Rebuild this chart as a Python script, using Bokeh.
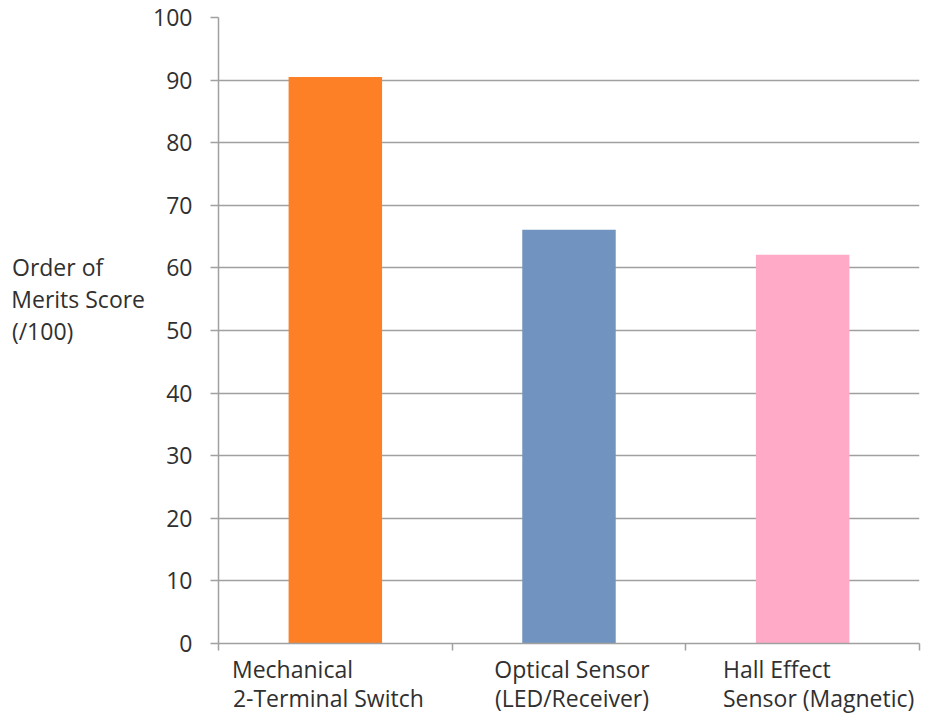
from bokeh.plotting import figure
from bokeh.models import Range1d, FixedTicker, ColumnDataSource, AllLabels
from bokeh.embed import file_html
from bokeh.resources import INLINE

categories = ["Mechanical\n2-Terminal Switch", "Optical Sensor\n(LED/Receiver)", "Hall Effect\nSensor (Magnetic)"]
scores = [90.5, 66.1, 62.1]
colors = ["#FD7F26", "#7093C0", "#FFABC8"]
y_ticks = [0, 10, 20, 30, 40, 50, 60, 70, 80, 90, 100]
y_title = "Order of\nMerits Score\n(/100)"

FONT = "Open Sans"
FS = "23px"
TXT = "#303030"
GRID = "#A0A0A0"
NB = "\u00a0"


def pad_lines(text, counts, extra_lines=0):
    # trailing no-break spaces so that the centred lines read as left-aligned
    lines = [ln + NB * k for ln, k in zip(text.split("\n"), counts)]
    lines += [NB] * extra_lines
    return "\n".join(lines)


n = len(categories)
xs = [i + 0.5 for i in range(n)]
src = ColumnDataSource(dict(x=xs, top=scores, color=colors))

W, H = 927, 717
ML, MR, MT, MB = 218, 8, 17, 74
p = figure(width=W, height=H, output_backend="svg", toolbar_location=None,
           x_range=Range1d(0, n), y_range=Range1d(0, 100),
           min_border_left=ML, min_border_right=MR, min_border_top=MT, min_border_bottom=MB)
p.outline_line_color = None

p.vbar(x="x", top="top", width=0.4, bottom=0, color="color", source=src, line_color=None)

# y axis
p.yaxis.ticker = FixedTicker(ticks=y_ticks)
p.yaxis.axis_line_color = GRID
p.yaxis.axis_line_width = 1.5
p.yaxis.major_tick_line_color = GRID
p.yaxis.major_tick_line_width = 1.5
p.yaxis.major_tick_in = 0
p.yaxis.major_tick_out = 8
p.yaxis.minor_tick_line_color = None
p.yaxis.major_label_text_font = FONT
p.yaxis.major_label_text_font_size = FS
p.yaxis.major_label_text_color = TXT
p.yaxis.major_label_standoff = 18
p.yaxis.axis_label = pad_lines(y_title, [7, 0, 12], extra_lines=2)
p.yaxis.axis_label_orientation = "horizontal"
p.yaxis.axis_label_text_font = FONT
p.yaxis.axis_label_text_font_size = FS
p.yaxis.axis_label_text_font_style = "normal"
p.yaxis.axis_label_text_color = TXT
p.yaxis.axis_label_text_line_height = 1.0
p.yaxis.axis_label_standoff = 5

# x axis: boundary ticks (minor), category labels (major, ticks hidden)
px_per_unit = (W - ML - MR) / n
label_shift_px = [-7, 3, 16]
label_pos = [x + s / px_per_unit for x, s in zip(xs, label_shift_px)]
label_text = [pad_lines(categories[0], [12, 0]),
              pad_lines(categories[1], [0, 0]),
              pad_lines(categories[2], [14, 0])]
p.xaxis.ticker = FixedTicker(ticks=label_pos, minor_ticks=list(range(n + 1)))
p.xaxis.major_label_overrides = {lp: t for lp, t in zip(label_pos, label_text)}
p.xaxis.major_label_policy = AllLabels()
p.xaxis.axis_line_color = GRID
p.xaxis.axis_line_width = 1.5
p.xaxis.major_tick_line_color = None
p.xaxis.major_tick_out = 7
p.xaxis.major_tick_in = 0
p.xaxis.minor_tick_line_color = GRID
p.xaxis.minor_tick_line_width = 1.5
p.xaxis.minor_tick_in = 0
p.xaxis.minor_tick_out = 7
p.xaxis.major_label_text_font = FONT
p.xaxis.major_label_text_font_size = FS
p.xaxis.major_label_text_color = TXT
p.xaxis.major_label_text_line_height = 0.93
p.xaxis.major_label_standoff = 2

p.xgrid.grid_line_color = None
p.ygrid.ticker = FixedTicker(ticks=y_ticks)
p.ygrid.grid_line_color = GRID
p.ygrid.grid_line_width = 1.5

open("out.html", "w").write(file_html(p, INLINE))
